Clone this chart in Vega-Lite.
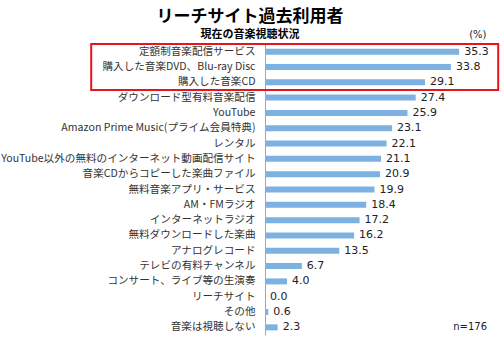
{
  "$schema": "https://vega.github.io/schema/vega-lite/v6.json",
  "width": 220,
  "height": 291,
  "autosize": {"type": "none"},
  "padding": {"left": 265, "top": 44, "right": 15, "bottom": 13},
  "background": "white",
  "config": {"view": {"stroke": null}, "font": "Noto Sans CJK JP"},
  "title": {
    "text": "リーチサイト過去利用者",
    "subtitle": "現在の音楽視聴状況",
    "anchor": "middle",
    "dx": -125,
    "dy": 19,
    "offset": 8,
    "font": "Noto Sans CJK JP",
    "fontSize": 17,
    "fontWeight": "bold",
    "color": "#000000",
    "subtitleFont": "Noto Sans CJK JP",
    "subtitleFontSize": 11,
    "subtitleFontWeight": "bold",
    "subtitleColor": "#000000",
    "subtitlePadding": 3
  },
  "data": {
    "values": [
      {"item": "定額制音楽配信サービス", "value": 35.3},
      {"item": "購入した音楽DVD、Blu-ray Disc", "value": 33.8},
      {"item": "購入した音楽CD", "value": 29.1},
      {"item": "ダウンロード型有料音楽配信", "value": 27.4},
      {"item": "YouTube", "value": 25.9},
      {"item": "Amazon Prime Music(プライム会員特典)", "value": 23.1},
      {"item": "レンタル", "value": 22.1},
      {"item": "YouTube以外の無料のインターネット動画配信サイト", "value": 21.1},
      {"item": "音楽CDからコピーした楽曲ファイル", "value": 20.9},
      {"item": "無料音楽アプリ・サービス", "value": 19.9},
      {"item": "AM・FMラジオ", "value": 18.4},
      {"item": "インターネットラジオ", "value": 17.2},
      {"item": "無料ダウンロードした楽曲", "value": 16.2},
      {"item": "アナログレコード", "value": 13.5},
      {"item": "テレビの有料チャンネル", "value": 6.7},
      {"item": "コンサート、ライブ等の生演奏", "value": 4.0},
      {"item": "リーチサイト", "value": 0.0},
      {"item": "その他", "value": 0.6},
      {"item": "音楽は視聴しない", "value": 2.3}
    ]
  },
  "encoding": {
    "y": {
      "field": "item",
      "type": "nominal",
      "sort": null,
      "scale": {"paddingInner": 0, "paddingOuter": 0},
      "axis": {
        "title": null,
        "ticks": false,
        "domainColor": "#A6A6A6",
        "domainWidth": 1,
        "labelPadding": 10,
        "labelLimit": 300,
        "labelFont": "Noto Sans CJK JP",
        "labelFontSize": 10.6,
        "labelColor": "#333333"
      }
    }
  },
  "layer": [
    {
      "mark": {"type": "bar", "size": 6, "color": "#7DB1E1"},
      "encoding": {
        "x": {
          "field": "value",
          "type": "quantitative",
          "scale": {"domain": [0, 40]},
          "axis": null
        }
      }
    },
    {
      "mark": {"type": "text", "align": "left", "baseline": "middle", "dx": 5, "font": "DejaVu Sans", "fontSize": 11, "color": "#222222"},
      "encoding": {
        "x": {"field": "value", "type": "quantitative"},
        "text": {"field": "value", "type": "quantitative", "format": ".1f"}
      }
    },
    {
      "data": {"values": [{"x1": -31.6, "x2": 42.4, "c1": "定額制音楽配信サービス", "c2": "購入した音楽CD"}]},
      "mark": {"type": "rect", "fill": null, "fillOpacity": 0, "stroke": "#E8141B", "strokeWidth": 2, "clip": false},
      "encoding": {
        "x": {"field": "x1", "type": "quantitative"},
        "x2": {"field": "x2"},
        "y": {"field": "c1", "type": "nominal", "sort": null, "bandPosition": 0},
        "y2": {"field": "c2", "bandPosition": 1}
      }
    },
    {
      "data": {"values": [
        {"label": "(%)", "x": 38.7, "c": "定額制音楽配信サービス"}
      ]},
      "mark": {"type": "text", "align": "center", "baseline": "middle", "dy": -17, "font": "DejaVu Sans", "fontSize": 10, "color": "#222222"},
      "encoding": {
        "x": {"field": "x", "type": "quantitative"},
        "y": {"field": "c", "type": "nominal", "sort": null},
        "text": {"field": "label"}
      }
    },
    {
      "data": {"values": [
        {"label": "n=176", "x": 37.3, "c": "音楽は視聴しない"}
      ]},
      "mark": {"type": "text", "align": "center", "baseline": "middle", "font": "DejaVu Sans", "fontSize": 10, "color": "#222222"},
      "encoding": {
        "x": {"field": "x", "type": "quantitative"},
        "y": {"field": "c", "type": "nominal", "sort": null},
        "text": {"field": "label"}
      }
    }
  ]
}
